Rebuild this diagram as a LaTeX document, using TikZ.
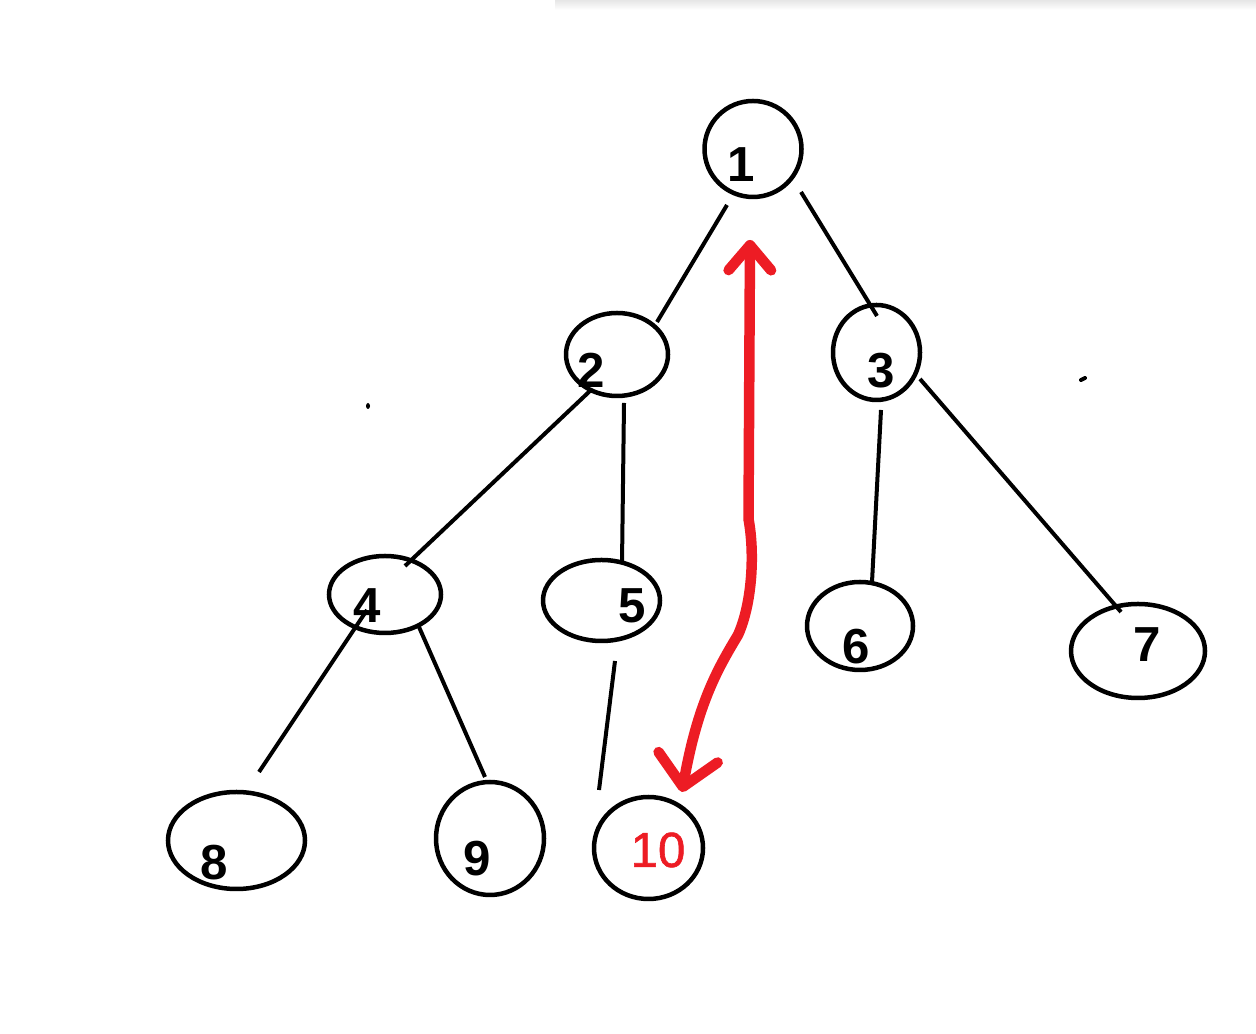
\documentclass[tikz,border=0pt]{standalone}
\usepackage{fontspec}
\usepackage{xcolor}
\usetikzlibrary{arrows.meta}
\usetikzlibrary{shapes.geometric}
\newfontfamily\rotfont{Liberation Sans}
\newfontfamily\rotmedio[FakeBold=1.2]{Liberation Sans}
\definecolor{vermelho}{HTML}{ED1C24}
\tikzset{
  no/.style={draw, ellipse, line width=0.09cm, inner sep=0pt},
  rotulo/.style={inner sep=0pt, font=\rotfont\bfseries\fontsize{28}{30}\selectfont},
  ramo/.style={line width=0.08cm},
  seta/.style={vermelho, line width=0.21cm, line cap=round, line join=round,
    arrows={Straight Barb[round,length=0.5cm,width=0.85cm]-Straight Barb[round,length=0.6cm,width=1.2cm]}},
}
\begin{document}
\begin{tikzpicture}
  \useasboundingbox[fill=white] (0,0) rectangle (25.12,20.68);
  \shade[top color=black!10, bottom color=white] (11.1,20.48) rectangle (25.12,20.68);
  % nos da arvore
  \node[no, minimum width=1.94cm, minimum height=1.92cm] (n1) at (15.06,17.70) {};
  \node[no, minimum width=2.04cm, minimum height=1.66cm] (n2) at (12.34,13.59) {};
  \node[no, minimum width=1.74cm, minimum height=1.90cm] (n3) at (17.53,13.63) {};
  \node[no, minimum width=2.24cm, minimum height=1.54cm] (n4) at (7.70,8.79) {};
  \node[no, minimum width=2.34cm, minimum height=1.62cm] (n5) at (12.03,8.67) {};
  \node[no, minimum width=2.12cm, minimum height=1.76cm] (n6) at (17.20,8.16) {};
  \node[no, minimum width=2.68cm, minimum height=1.88cm] (n7) at (22.76,7.66) {};
  \node[no, minimum width=2.74cm, minimum height=1.94cm] (n8) at (4.73,3.87) {};
  \node[no, minimum width=2.16cm, minimum height=2.26cm] (n9) at (9.80,3.91) {};
  \node[no, minimum width=2.18cm, minimum height=2.04cm] (n10) at (12.97,3.72) {};
  % numeros
  \node[rotulo] (r1) at ([shift={(-0.24,-0.32)}]n1.center) {1};
  \node[rotulo] (r2) at ([shift={(-0.52,-0.32)}]n2.center) {2};
  \node[rotulo] (r3) at ([shift={(0.10,-0.36)}]n3.center) {3};
  \node[rotulo] (r4) at ([shift={(-0.36,-0.22)}]n4.center) {4};
  \node[rotulo] (r5) at ([shift={(0.62,-0.10)}]n5.center) {5};
  \node[rotulo] (r6) at ([shift={(-0.08,-0.42)}]n6.center) {6};
  \node[rotulo] (r7) at ([shift={(0.18,0.12)}]n7.center) {7};
  \node[rotulo] (r8) at ([shift={(-0.44,-0.44)}]n8.center) {8};
  \node[rotulo] (r9) at ([shift={(-0.26,-0.40)}]n9.center) {9};
  \node[rotulo, font=\rotmedio\fontsize{28}{30}\selectfont, text=vermelho] (r10) at ([shift={(0.19,-0.04)}]n10.center) {10};
  % ramos
  \draw[ramo] ([shift={(-0.52,-1.12)}]n1.center) -- ([shift={(0.80,0.65)}]n2.center);
  \draw[ramo] ([shift={(0.96,-0.86)}]n1.center) -- ([shift={(0.01,0.73)}]n3.center);
  \draw[ramo] ([shift={(-0.52,-0.71)}]n2.center) -- ([shift={(0.40,0.57)}]n4.center);
  \draw[ramo] ([shift={(0.14,-0.97)}]n2.center) -- ([shift={(0.41,0.75)}]n5.center);
  \draw[ramo] ([shift={(0.09,-1.15)}]n3.center) -- ([shift={(0.24,0.88)}]n6.center);
  \draw[ramo] ([shift={(0.87,-0.53)}]n3.center) -- ([shift={(-0.34,0.78)}]n7.center);
  \draw[ramo] ([shift={(-0.36,-0.31)}]n4.center) -- ([shift={(0.45,1.37)}]n8.center);
  \draw[ramo] ([shift={(0.68,-0.65)}]n4.center) -- ([shift={(-0.10,1.23)}]n9.center);
  \draw[ramo] ([shift={(0.27,-1.21)}]n5.center) -- ([shift={(-0.99,1.16)}]n10.center);
  % seta vermelha
  \draw[seta] ([shift={(-0.06,-1.82)}]n1.center) -- (14.97,10.3)
    .. controls (15.10,9.6) and (15.04,8.6) .. (14.76,7.98)
    .. controls (14.35,7.3) and (13.95,6.6) .. ([shift={(0.67,1.12)}]n10.center);
  % pontinhos soltos
  \fill (7.36,12.56) ellipse (0.04 and 0.06);
  \draw[line width=0.08cm, line cap=round] (21.62,13.08) -- (21.70,13.12);
\end{tikzpicture}
\end{document}
